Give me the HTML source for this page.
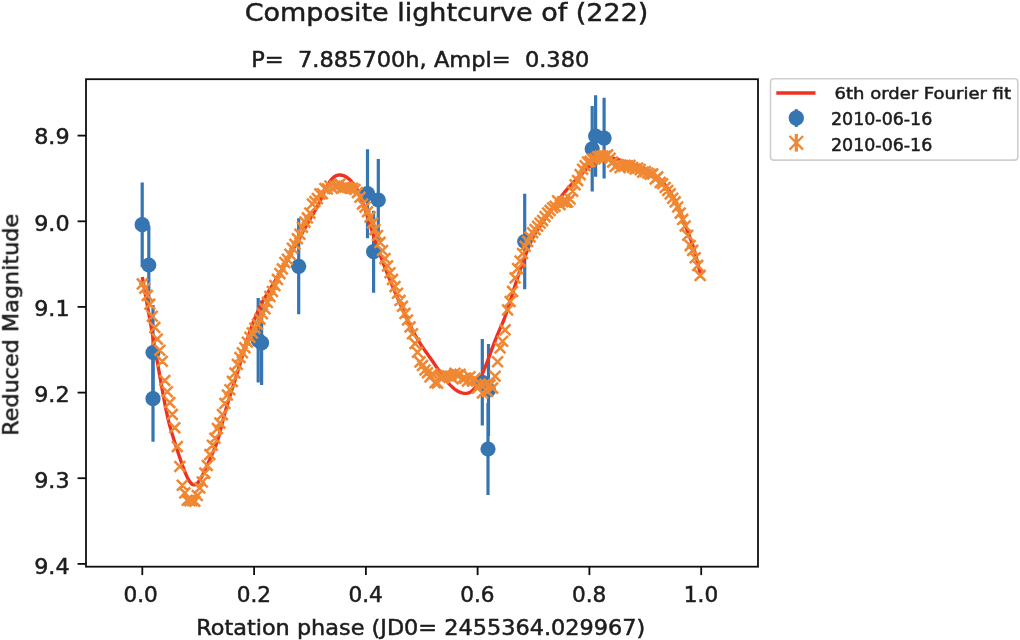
<!DOCTYPE html>
<html><head><meta charset="utf-8"><title>Composite lightcurve of (222)</title>
<style>html,body{margin:0;padding:0;background:#fff;}body{width:1020px;height:640px;overflow:hidden}svg{display:block}</style>
</head><body>
<svg width="1020" height="640" viewBox="0 0 1020 640">
<rect width="1020" height="640" fill="#fff"/>
<filter id="soft" x="0" y="0" width="100%" height="100%" filterUnits="userSpaceOnUse"><feGaussianBlur stdDeviation="0.6"/></filter>
<g filter="url(#soft)">
<clipPath id="c"><rect x="86.0" y="79.2" width="672.0" height="487.50000000000006"/></clipPath>
<g clip-path="url(#c)">
<line x1="142.2" y1="182.5" x2="142.2" y2="266.9" stroke="#3674b2" stroke-width="3.2"/>
<line x1="148.8" y1="225.5" x2="148.8" y2="304.5" stroke="#3674b2" stroke-width="3.2"/>
<line x1="153" y1="305.0" x2="153" y2="400.0" stroke="#3674b2" stroke-width="3.2"/>
<line x1="153" y1="355.7" x2="153" y2="441.7" stroke="#3674b2" stroke-width="3.2"/>
<line x1="258.2" y1="297.9" x2="258.2" y2="382.5" stroke="#3674b2" stroke-width="3.2"/>
<line x1="261.6" y1="300.6" x2="261.6" y2="385.0" stroke="#3674b2" stroke-width="3.2"/>
<line x1="298.7" y1="218.3" x2="298.7" y2="314.3" stroke="#3674b2" stroke-width="3.2"/>
<line x1="367.5" y1="149.2" x2="367.5" y2="238.2" stroke="#3674b2" stroke-width="3.2"/>
<line x1="378.3" y1="159.0" x2="378.3" y2="241.0" stroke="#3674b2" stroke-width="3.2"/>
<line x1="373.6" y1="210.7" x2="373.6" y2="292.7" stroke="#3674b2" stroke-width="3.2"/>
<line x1="482.3" y1="339.0" x2="482.3" y2="425.6" stroke="#3674b2" stroke-width="3.2"/>
<line x1="488.5" y1="344.0" x2="488.5" y2="436.0" stroke="#3674b2" stroke-width="3.2"/>
<line x1="488" y1="403.0" x2="488" y2="495.0" stroke="#3674b2" stroke-width="3.2"/>
<line x1="524.7" y1="193.7" x2="524.7" y2="289.3" stroke="#3674b2" stroke-width="3.2"/>
<line x1="592.2" y1="106.0" x2="592.2" y2="191.6" stroke="#3674b2" stroke-width="3.2"/>
<line x1="595.6" y1="95.2" x2="595.6" y2="176.8" stroke="#3674b2" stroke-width="3.2"/>
<line x1="604.1" y1="97.8" x2="604.1" y2="178.4" stroke="#3674b2" stroke-width="3.2"/>
<path d="M142.3,277.0 L143.8,285.5 L145.3,293.9 L146.8,302.4 L148.3,310.8 L149.8,319.3 L151.3,327.7 L152.8,336.2 L154.3,344.7 L155.8,353.2 L157.3,361.7 L158.8,370.2 L160.3,378.7 L161.8,387.2 L163.3,395.5 L164.8,403.5 L166.3,411.0 L167.8,417.9 L169.3,424.0 L170.8,429.4 L172.3,434.4 L173.8,439.3 L175.3,444.0 L176.8,448.7 L178.3,453.3 L179.8,457.8 L181.3,462.1 L182.8,466.3 L184.3,470.3 L185.8,474.0 L187.3,477.3 L188.8,480.2 L190.3,482.4 L191.8,484.0 L193.3,484.9 L194.8,484.9 L196.3,484.2 L197.8,482.8 L199.3,480.8 L200.8,478.4 L202.3,475.6 L203.8,472.5 L205.3,469.4 L206.8,466.1 L208.3,462.8 L209.8,459.4 L211.3,456.0 L212.8,452.6 L214.3,449.1 L215.8,445.4 L217.3,441.2 L218.8,436.4 L220.3,430.8 L221.8,424.8 L223.3,418.8 L224.8,413.2 L226.3,407.9 L227.8,402.9 L229.3,398.0 L230.8,393.3 L232.3,388.6 L233.8,383.9 L235.3,379.2 L236.8,374.4 L238.3,369.5 L239.8,364.5 L241.3,359.4 L242.8,354.4 L244.3,349.4 L245.8,344.4 L247.3,339.6 L248.8,334.9 L250.3,330.4 L251.8,326.2 L253.3,322.2 L254.8,318.4 L256.3,314.8 L257.8,311.5 L259.3,308.3 L260.8,305.2 L262.3,302.4 L263.8,299.6 L265.3,296.9 L266.8,294.4 L268.3,291.9 L269.8,289.4 L271.3,287.0 L272.8,284.6 L274.3,282.1 L275.8,279.7 L277.3,277.2 L278.8,274.7 L280.3,272.1 L281.8,269.6 L283.3,267.0 L284.8,264.3 L286.3,261.7 L287.8,259.0 L289.3,256.3 L290.8,253.7 L292.3,251.0 L293.8,248.2 L295.3,245.5 L296.8,242.8 L298.3,240.1 L299.8,237.4 L301.3,234.6 L302.8,231.9 L304.3,229.2 L305.8,226.6 L307.3,223.9 L308.8,221.3 L310.3,218.7 L311.8,216.1 L313.3,213.6 L314.8,211.0 L316.3,208.4 L317.8,205.6 L319.3,202.7 L320.8,199.6 L322.3,196.3 L323.8,193.0 L325.3,189.8 L326.8,186.8 L328.3,184.0 L329.8,181.6 L331.3,179.6 L332.8,178.0 L334.3,176.8 L335.8,175.9 L337.3,175.3 L338.8,175.0 L340.3,175.0 L341.8,175.2 L343.3,175.6 L344.8,176.2 L346.3,177.0 L347.8,178.1 L349.3,179.3 L350.8,180.8 L352.3,182.5 L353.8,184.4 L355.3,186.6 L356.8,189.1 L358.3,192.0 L359.8,195.3 L361.3,198.9 L362.8,202.8 L364.3,207.0 L365.8,211.4 L367.3,216.0 L368.8,220.6 L370.3,225.3 L371.8,230.1 L373.3,234.8 L374.8,239.4 L376.3,243.9 L377.8,248.3 L379.3,252.5 L380.8,256.7 L382.3,260.7 L383.8,264.6 L385.3,268.5 L386.8,272.3 L388.3,276.0 L389.8,279.7 L391.3,283.3 L392.8,286.8 L394.3,290.4 L395.8,293.9 L397.3,297.4 L398.8,300.8 L400.3,304.2 L401.8,307.6 L403.3,311.0 L404.8,314.2 L406.3,317.5 L407.8,320.6 L409.3,323.7 L410.8,326.7 L412.3,329.7 L413.8,332.5 L415.3,335.3 L416.8,337.9 L418.3,340.4 L419.8,342.8 L421.3,345.2 L422.8,347.4 L424.3,349.6 L425.8,351.7 L427.3,353.8 L428.8,355.9 L430.3,358.0 L431.8,360.2 L433.3,362.3 L434.8,364.6 L436.3,366.8 L437.8,369.0 L439.3,371.2 L440.8,373.3 L442.3,375.4 L443.8,377.4 L445.3,379.4 L446.8,381.2 L448.3,383.0 L449.8,384.6 L451.3,386.1 L452.8,387.5 L454.3,388.8 L455.8,389.9 L457.3,390.9 L458.8,391.7 L460.3,392.3 L461.8,392.9 L463.3,393.2 L464.8,393.4 L466.3,393.4 L467.8,393.2 L469.3,392.7 L470.8,391.9 L472.3,390.7 L473.8,389.2 L475.3,387.3 L476.8,385.0 L478.3,382.4 L479.8,379.5 L481.3,376.3 L482.8,372.8 L484.3,369.2 L485.8,365.5 L487.3,361.6 L488.8,357.6 L490.3,353.5 L491.8,349.4 L493.3,345.4 L494.8,341.4 L496.3,337.5 L497.8,333.8 L499.3,330.3 L500.8,327.0 L502.3,323.6 L503.8,320.0 L505.3,316.0 L506.8,311.7 L508.3,307.1 L509.8,302.4 L511.3,297.5 L512.8,292.6 L514.3,287.8 L515.8,283.2 L517.3,278.6 L518.8,274.1 L520.3,269.7 L521.8,265.4 L523.3,261.2 L524.8,257.0 L526.3,252.9 L527.8,248.9 L529.3,245.2 L530.8,241.8 L532.3,238.6 L533.8,235.7 L535.3,233.1 L536.8,230.7 L538.3,228.4 L539.8,226.2 L541.3,224.1 L542.8,221.9 L544.3,219.7 L545.8,217.5 L547.3,215.4 L548.8,213.2 L550.3,211.1 L551.8,209.0 L553.3,206.9 L554.8,204.8 L556.3,202.8 L557.8,200.8 L559.3,198.9 L560.8,197.0 L562.3,195.1 L563.8,193.2 L565.3,191.4 L566.8,189.6 L568.3,187.9 L569.8,186.2 L571.3,184.6 L572.8,183.0 L574.3,181.4 L575.8,179.8 L577.3,178.3 L578.8,176.8 L580.3,175.3 L581.8,173.8 L583.3,172.3 L584.8,170.9 L586.3,169.4 L587.8,167.9 L589.3,166.5 L590.8,165.0 L592.3,163.7 L593.8,162.4 L595.3,161.2 L596.8,160.1 L598.3,159.2 L599.8,158.5 L601.3,157.9 L602.8,157.4 L604.3,157.1 L605.8,157.0 L607.3,157.0 L608.8,157.2 L610.3,157.5 L611.8,157.8 L613.3,158.2 L614.8,158.6 L616.3,159.1 L617.8,159.5 L619.3,159.9 L620.8,160.4 L622.3,160.8 L623.8,161.2 L625.3,161.6 L626.8,162.0 L628.3,162.5 L629.8,162.9 L631.3,163.4 L632.8,163.9 L634.3,164.5 L635.8,165.0 L637.3,165.7 L638.8,166.3 L640.3,167.0 L641.8,167.7 L643.3,168.4 L644.8,169.1 L646.3,169.9 L647.8,170.8 L649.3,171.6 L650.8,172.5 L652.3,173.4 L653.8,174.3 L655.3,175.4 L656.8,176.5 L658.3,177.7 L659.8,179.1 L661.3,180.6 L662.8,182.2 L664.3,184.0 L665.8,185.9 L667.3,188.0 L668.8,190.2 L670.3,192.5 L671.8,194.9 L673.3,197.4 L674.8,200.2 L676.3,203.2 L677.8,206.4 L679.3,210.0 L680.8,213.7 L682.3,217.5 L683.8,221.4 L685.3,225.3 L686.8,229.3 L688.3,233.2 L689.8,237.2 L691.3,241.2 L692.8,245.4 L694.3,250.1 L695.8,255.6 L697.3,261.6 L698.8,267.6 L700.3,273.1" fill="none" stroke="#ee3124" stroke-width="3.4" stroke-linejoin="round"/>
<circle cx="142.2" cy="224.7" r="7.6" fill="#3674b2"/>
<circle cx="148.8" cy="265" r="7.6" fill="#3674b2"/>
<circle cx="153" cy="352.5" r="7.6" fill="#3674b2"/>
<circle cx="153" cy="398.7" r="7.6" fill="#3674b2"/>
<circle cx="258.2" cy="340.2" r="7.6" fill="#3674b2"/>
<circle cx="261.6" cy="342.8" r="7.6" fill="#3674b2"/>
<circle cx="298.7" cy="266.3" r="7.6" fill="#3674b2"/>
<circle cx="367.5" cy="193.7" r="7.6" fill="#3674b2"/>
<circle cx="378.3" cy="200" r="7.6" fill="#3674b2"/>
<circle cx="373.6" cy="251.7" r="7.6" fill="#3674b2"/>
<circle cx="482.3" cy="382.3" r="7.6" fill="#3674b2"/>
<circle cx="488.5" cy="390" r="7.6" fill="#3674b2"/>
<circle cx="488" cy="449" r="7.6" fill="#3674b2"/>
<circle cx="524.7" cy="241.5" r="7.6" fill="#3674b2"/>
<circle cx="592.2" cy="148.8" r="7.6" fill="#3674b2"/>
<circle cx="595.6" cy="136" r="7.6" fill="#3674b2"/>
<circle cx="604.1" cy="138.1" r="7.6" fill="#3674b2"/>
<path d="M136.9,278.5l10.8,10.8M136.9,289.3l10.8,-10.8M139.4,282.8l10.8,10.8M139.4,293.6l10.8,-10.8M141.9,290.0l10.8,10.8M141.9,300.8l10.8,-10.8M144.4,298.8l10.8,10.8M144.4,309.6l10.8,-10.8M146.9,310.9l10.8,10.8M146.9,321.7l10.8,-10.8M149.4,322.0l10.8,10.8M149.4,332.8l10.8,-10.8M151.9,333.7l10.8,10.8M151.9,344.5l10.8,-10.8M154.4,344.9l10.8,10.8M154.4,355.7l10.8,-10.8M156.9,355.9l10.8,10.8M156.9,366.7l10.8,-10.8M159.4,375.1l10.8,10.8M159.4,385.9l10.8,-10.8M161.9,386.3l10.8,10.8M161.9,397.1l10.8,-10.8M164.4,397.2l10.8,10.8M164.4,408.0l10.8,-10.8M166.9,409.0l10.8,10.8M166.9,419.8l10.8,-10.8M169.4,422.4l10.8,10.8M169.4,433.2l10.8,-10.8M171.9,441.2l10.8,10.8M171.9,452.0l10.8,-10.8M174.4,461.1l10.8,10.8M174.4,471.9l10.8,-10.8M176.9,479.8l10.8,10.8M176.9,490.6l10.8,-10.8M179.4,487.5l10.8,10.8M179.4,498.3l10.8,-10.8M181.9,494.8l10.8,10.8M181.9,505.6l10.8,-10.8M184.4,495.2l10.8,10.8M184.4,506.0l10.8,-10.8M186.9,495.2l10.8,10.8M186.9,506.0l10.8,-10.8M189.4,495.9l10.8,10.8M189.4,506.7l10.8,-10.8M191.9,490.1l10.8,10.8M191.9,500.9l10.8,-10.8M194.4,482.5l10.8,10.8M194.4,493.3l10.8,-10.8M196.9,476.6l10.8,10.8M196.9,487.4l10.8,-10.8M199.4,467.7l10.8,10.8M199.4,478.5l10.8,-10.8M201.9,460.1l10.8,10.8M201.9,470.9l10.8,-10.8M204.4,449.2l10.8,10.8M204.4,460.0l10.8,-10.8M207.0,439.8l10.8,10.8M207.0,450.6l10.8,-10.8M209.5,432.8l10.8,10.8M209.5,443.6l10.8,-10.8M212.0,423.2l10.8,10.8M212.0,434.0l10.8,-10.8M214.5,417.7l10.8,10.8M214.5,428.5l10.8,-10.8M217.0,409.2l10.8,10.8M217.0,420.0l10.8,-10.8M219.5,398.0l10.8,10.8M219.5,408.8l10.8,-10.8M222.0,389.6l10.8,10.8M222.0,400.4l10.8,-10.8M224.5,384.3l10.8,10.8M224.5,395.1l10.8,-10.8M227.0,376.0l10.8,10.8M227.0,386.8l10.8,-10.8M229.5,367.6l10.8,10.8M229.5,378.4l10.8,-10.8M232.0,359.0l10.8,10.8M232.0,369.8l10.8,-10.8M234.5,352.2l10.8,10.8M234.5,363.0l10.8,-10.8M237.0,347.3l10.8,10.8M237.0,358.1l10.8,-10.8M239.5,342.3l10.8,10.8M239.5,353.1l10.8,-10.8M242.0,336.9l10.8,10.8M242.0,347.7l10.8,-10.8M244.5,331.8l10.8,10.8M244.5,342.6l10.8,-10.8M247.0,327.5l10.8,10.8M247.0,338.3l10.8,-10.8M249.5,322.8l10.8,10.8M249.5,333.6l10.8,-10.8M252.0,318.9l10.8,10.8M252.0,329.7l10.8,-10.8M254.5,313.7l10.8,10.8M254.5,324.5l10.8,-10.8M257.0,308.3l10.8,10.8M257.0,319.1l10.8,-10.8M259.5,303.3l10.8,10.8M259.5,314.1l10.8,-10.8M262.0,297.0l10.8,10.8M262.0,307.8l10.8,-10.8M264.5,291.0l10.8,10.8M264.5,301.8l10.8,-10.8M267.0,286.1l10.8,10.8M267.0,296.9l10.8,-10.8M269.5,280.2l10.8,10.8M269.5,291.0l10.8,-10.8M272.0,274.0l10.8,10.8M272.0,284.8l10.8,-10.8M274.5,268.2l10.8,10.8M274.5,279.0l10.8,-10.8M277.0,263.5l10.8,10.8M277.0,274.3l10.8,-10.8M279.5,257.2l10.8,10.8M279.5,268.0l10.8,-10.8M282.0,253.9l10.8,10.8M282.0,264.7l10.8,-10.8M284.5,248.8l10.8,10.8M284.5,259.6l10.8,-10.8M287.0,242.9l10.8,10.8M287.0,253.7l10.8,-10.8M289.5,238.8l10.8,10.8M289.5,249.6l10.8,-10.8M292.0,233.3l10.8,10.8M292.0,244.1l10.8,-10.8M294.5,228.9l10.8,10.8M294.5,239.7l10.8,-10.8M297.0,221.8l10.8,10.8M297.0,232.6l10.8,-10.8M299.5,216.7l10.8,10.8M299.5,227.5l10.8,-10.8M302.0,212.5l10.8,10.8M302.0,223.3l10.8,-10.8M304.5,207.7l10.8,10.8M304.5,218.5l10.8,-10.8M307.0,198.6l10.8,10.8M307.0,209.4l10.8,-10.8M309.5,196.1l10.8,10.8M309.5,206.9l10.8,-10.8M312.0,193.2l10.8,10.8M312.0,204.0l10.8,-10.8M314.5,188.5l10.8,10.8M314.5,199.3l10.8,-10.8M317.0,188.4l10.8,10.8M317.0,199.2l10.8,-10.8M319.5,183.2l10.8,10.8M319.5,194.0l10.8,-10.8M322.0,183.5l10.8,10.8M322.0,194.3l10.8,-10.8M324.5,180.6l10.8,10.8M324.5,191.4l10.8,-10.8M327.0,182.9l10.8,10.8M327.0,193.7l10.8,-10.8M329.5,180.9l10.8,10.8M329.5,191.7l10.8,-10.8M332.0,180.3l10.8,10.8M332.0,191.1l10.8,-10.8M334.5,178.6l10.8,10.8M334.5,189.4l10.8,-10.8M337.0,182.6l10.8,10.8M337.0,193.4l10.8,-10.8M339.5,181.6l10.8,10.8M339.5,192.4l10.8,-10.8M342.0,181.9l10.8,10.8M342.0,192.7l10.8,-10.8M344.5,182.9l10.8,10.8M344.5,193.7l10.8,-10.8M347.1,182.9l10.8,10.8M347.1,193.7l10.8,-10.8M349.6,184.1l10.8,10.8M349.6,194.9l10.8,-10.8M352.1,187.2l10.8,10.8M352.1,198.0l10.8,-10.8M354.6,191.9l10.8,10.8M354.6,202.7l10.8,-10.8M357.1,198.7l10.8,10.8M357.1,209.5l10.8,-10.8M359.6,201.7l10.8,10.8M359.6,212.5l10.8,-10.8M362.1,206.4l10.8,10.8M362.1,217.2l10.8,-10.8M364.6,211.5l10.8,10.8M364.6,222.3l10.8,-10.8M367.1,217.6l10.8,10.8M367.1,228.4l10.8,-10.8M369.6,224.2l10.8,10.8M369.6,235.0l10.8,-10.8M372.1,230.1l10.8,10.8M372.1,240.9l10.8,-10.8M374.6,237.0l10.8,10.8M374.6,247.8l10.8,-10.8M377.1,245.1l10.8,10.8M377.1,255.9l10.8,-10.8M379.6,253.2l10.8,10.8M379.6,264.0l10.8,-10.8M382.1,260.5l10.8,10.8M382.1,271.3l10.8,-10.8M384.6,267.3l10.8,10.8M384.6,278.1l10.8,-10.8M387.1,274.0l10.8,10.8M387.1,284.8l10.8,-10.8M389.6,281.2l10.8,10.8M389.6,292.0l10.8,-10.8M392.1,287.8l10.8,10.8M392.1,298.6l10.8,-10.8M394.6,295.0l10.8,10.8M394.6,305.8l10.8,-10.8M397.1,300.9l10.8,10.8M397.1,311.7l10.8,-10.8M399.6,308.0l10.8,10.8M399.6,318.8l10.8,-10.8M402.1,314.6l10.8,10.8M402.1,325.4l10.8,-10.8M404.6,321.5l10.8,10.8M404.6,332.3l10.8,-10.8M407.1,328.4l10.8,10.8M407.1,339.2l10.8,-10.8M409.6,338.0l10.8,10.8M409.6,348.8l10.8,-10.8M412.1,346.8l10.8,10.8M412.1,357.6l10.8,-10.8M414.6,356.5l10.8,10.8M414.6,367.3l10.8,-10.8M417.1,360.0l10.8,10.8M417.1,370.8l10.8,-10.8M419.6,364.6l10.8,10.8M419.6,375.4l10.8,-10.8M422.1,367.4l10.8,10.8M422.1,378.2l10.8,-10.8M424.6,371.5l10.8,10.8M424.6,382.3l10.8,-10.8M427.1,368.5l10.8,10.8M427.1,379.3l10.8,-10.8M429.6,377.3l10.8,10.8M429.6,388.1l10.8,-10.8M432.1,377.7l10.8,10.8M432.1,388.5l10.8,-10.8M434.6,372.1l10.8,10.8M434.6,382.9l10.8,-10.8M437.1,371.1l10.8,10.8M437.1,381.9l10.8,-10.8M439.6,369.7l10.8,10.8M439.6,380.5l10.8,-10.8M442.1,370.4l10.8,10.8M442.1,381.2l10.8,-10.8M444.6,370.8l10.8,10.8M444.6,381.6l10.8,-10.8M447.1,372.9l10.8,10.8M447.1,383.7l10.8,-10.8M449.6,367.9l10.8,10.8M449.6,378.7l10.8,-10.8M452.1,369.6l10.8,10.8M452.1,380.4l10.8,-10.8M454.6,368.9l10.8,10.8M454.6,379.7l10.8,-10.8M457.1,373.4l10.8,10.8M457.1,384.2l10.8,-10.8M459.6,372.9l10.8,10.8M459.6,383.7l10.8,-10.8M462.1,375.6l10.8,10.8M462.1,386.4l10.8,-10.8M464.6,371.3l10.8,10.8M464.6,382.1l10.8,-10.8M467.1,375.7l10.8,10.8M467.1,386.5l10.8,-10.8M469.6,373.0l10.8,10.8M469.6,383.8l10.8,-10.8M472.1,382.7l10.8,10.8M472.1,393.5l10.8,-10.8M474.6,378.6l10.8,10.8M474.6,389.4l10.8,-10.8M477.1,387.5l10.8,10.8M477.1,398.3l10.8,-10.8M479.6,378.8l10.8,10.8M479.6,389.6l10.8,-10.8M482.1,386.0l10.8,10.8M482.1,396.8l10.8,-10.8M484.6,379.5l10.8,10.8M484.6,390.3l10.8,-10.8M487.2,382.7l10.8,10.8M487.2,393.5l10.8,-10.8M489.7,370.9l10.8,10.8M489.7,381.7l10.8,-10.8M492.2,356.3l10.8,10.8M492.2,367.1l10.8,-10.8M494.7,342.5l10.8,10.8M494.7,353.3l10.8,-10.8M497.2,335.8l10.8,10.8M497.2,346.6l10.8,-10.8M499.7,324.5l10.8,10.8M499.7,335.3l10.8,-10.8M502.2,304.5l10.8,10.8M502.2,315.3l10.8,-10.8M504.7,296.1l10.8,10.8M504.7,306.9l10.8,-10.8M507.2,286.0l10.8,10.8M507.2,296.8l10.8,-10.8M509.7,272.5l10.8,10.8M509.7,283.3l10.8,-10.8M512.2,263.2l10.8,10.8M512.2,274.0l10.8,-10.8M514.7,255.7l10.8,10.8M514.7,266.5l10.8,-10.8M517.2,248.1l10.8,10.8M517.2,258.9l10.8,-10.8M519.7,240.9l10.8,10.8M519.7,251.7l10.8,-10.8M522.2,236.0l10.8,10.8M522.2,246.8l10.8,-10.8M524.7,231.6l10.8,10.8M524.7,242.4l10.8,-10.8M527.2,227.3l10.8,10.8M527.2,238.1l10.8,-10.8M529.7,224.2l10.8,10.8M529.7,235.0l10.8,-10.8M532.2,220.8l10.8,10.8M532.2,231.6l10.8,-10.8M534.7,217.8l10.8,10.8M534.7,228.6l10.8,-10.8M537.2,215.2l10.8,10.8M537.2,226.0l10.8,-10.8M539.7,211.2l10.8,10.8M539.7,222.0l10.8,-10.8M542.2,207.7l10.8,10.8M542.2,218.5l10.8,-10.8M544.7,205.0l10.8,10.8M544.7,215.8l10.8,-10.8M547.2,202.4l10.8,10.8M547.2,213.2l10.8,-10.8M549.7,200.8l10.8,10.8M549.7,211.6l10.8,-10.8M552.2,195.3l10.8,10.8M552.2,206.1l10.8,-10.8M554.7,199.2l10.8,10.8M554.7,210.0l10.8,-10.8M557.2,196.3l10.8,10.8M557.2,207.1l10.8,-10.8M559.7,196.5l10.8,10.8M559.7,207.3l10.8,-10.8M562.2,196.6l10.8,10.8M562.2,207.4l10.8,-10.8M564.7,193.6l10.8,10.8M564.7,204.4l10.8,-10.8M567.2,185.9l10.8,10.8M567.2,196.7l10.8,-10.8M569.7,179.3l10.8,10.8M569.7,190.1l10.8,-10.8M572.2,175.2l10.8,10.8M572.2,186.0l10.8,-10.8M574.7,169.2l10.8,10.8M574.7,180.0l10.8,-10.8M577.2,163.9l10.8,10.8M577.2,174.7l10.8,-10.8M579.7,160.4l10.8,10.8M579.7,171.2l10.8,-10.8M582.2,156.7l10.8,10.8M582.2,167.5l10.8,-10.8M584.7,156.0l10.8,10.8M584.7,166.8l10.8,-10.8M587.2,153.9l10.8,10.8M587.2,164.7l10.8,-10.8M589.7,153.4l10.8,10.8M589.7,164.2l10.8,-10.8M592.2,151.5l10.8,10.8M592.2,162.3l10.8,-10.8M594.7,150.7l10.8,10.8M594.7,161.5l10.8,-10.8M597.2,150.7l10.8,10.8M597.2,161.5l10.8,-10.8M599.7,150.8l10.8,10.8M599.7,161.6l10.8,-10.8M602.2,149.5l10.8,10.8M602.2,160.3l10.8,-10.8M604.7,152.8l10.8,10.8M604.7,163.6l10.8,-10.8M607.2,156.7l10.8,10.8M607.2,167.5l10.8,-10.8M609.7,161.1l10.8,10.8M609.7,171.9l10.8,-10.8M612.2,159.1l10.8,10.8M612.2,169.9l10.8,-10.8M614.7,162.3l10.8,10.8M614.7,173.1l10.8,-10.8M617.2,160.1l10.8,10.8M617.2,170.9l10.8,-10.8M619.7,159.9l10.8,10.8M619.7,170.7l10.8,-10.8M622.2,160.5l10.8,10.8M622.2,171.3l10.8,-10.8M624.7,160.0l10.8,10.8M624.7,170.8l10.8,-10.8M627.3,162.1l10.8,10.8M627.3,172.9l10.8,-10.8M629.8,163.6l10.8,10.8M629.8,174.4l10.8,-10.8M632.3,162.6l10.8,10.8M632.3,173.4l10.8,-10.8M634.8,164.2l10.8,10.8M634.8,175.0l10.8,-10.8M637.3,166.9l10.8,10.8M637.3,177.7l10.8,-10.8M639.8,166.1l10.8,10.8M639.8,176.9l10.8,-10.8M642.3,167.6l10.8,10.8M642.3,178.4l10.8,-10.8M644.8,168.8l10.8,10.8M644.8,179.6l10.8,-10.8M647.3,168.5l10.8,10.8M647.3,179.3l10.8,-10.8M649.8,173.6l10.8,10.8M649.8,184.4l10.8,-10.8M652.3,171.5l10.8,10.8M652.3,182.3l10.8,-10.8M654.8,177.0l10.8,10.8M654.8,187.8l10.8,-10.8M657.3,178.4l10.8,10.8M657.3,189.2l10.8,-10.8M659.8,182.1l10.8,10.8M659.8,192.9l10.8,-10.8M662.3,185.1l10.8,10.8M662.3,195.9l10.8,-10.8M664.8,188.5l10.8,10.8M664.8,199.3l10.8,-10.8M667.3,192.8l10.8,10.8M667.3,203.6l10.8,-10.8M669.8,196.5l10.8,10.8M669.8,207.3l10.8,-10.8M672.3,201.6l10.8,10.8M672.3,212.4l10.8,-10.8M674.8,207.7l10.8,10.8M674.8,218.5l10.8,-10.8M677.3,214.0l10.8,10.8M677.3,224.8l10.8,-10.8M679.8,220.6l10.8,10.8M679.8,231.4l10.8,-10.8M682.3,229.8l10.8,10.8M682.3,240.6l10.8,-10.8M684.8,240.2l10.8,10.8M684.8,251.0l10.8,-10.8M687.3,245.0l10.8,10.8M687.3,255.8l10.8,-10.8M689.8,252.4l10.8,10.8M689.8,263.2l10.8,-10.8M692.3,260.0l10.8,10.8M692.3,270.8l10.8,-10.8M694.8,270.0l10.8,10.8M694.8,280.8l10.8,-10.8" fill="none" stroke="#f08732" stroke-width="2.5"/>
</g>
<rect x="86.0" y="79.2" width="672.0" height="487.50000000000006" fill="none" stroke="#0c0c0c" stroke-width="1.8"/>
<line x1="142.3" y1="566.7" x2="142.3" y2="575.1" stroke="#0c0c0c" stroke-width="1.8"/>
<text x="140.7" y="602.0" font-size="21.6" text-anchor="middle" fill="#1c1c1c" font-family="DejaVu Sans, Liberation Sans, sans-serif" stroke="#1c1c1c" stroke-width="0.5">0.0</text>
<line x1="254.1" y1="566.7" x2="254.1" y2="575.1" stroke="#0c0c0c" stroke-width="1.8"/>
<text x="253.9" y="602.0" font-size="21.6" text-anchor="middle" fill="#1c1c1c" font-family="DejaVu Sans, Liberation Sans, sans-serif" stroke="#1c1c1c" stroke-width="0.5">0.2</text>
<line x1="365.9" y1="566.7" x2="365.9" y2="575.1" stroke="#0c0c0c" stroke-width="1.8"/>
<text x="365.7" y="602.0" font-size="21.6" text-anchor="middle" fill="#1c1c1c" font-family="DejaVu Sans, Liberation Sans, sans-serif" stroke="#1c1c1c" stroke-width="0.5">0.4</text>
<line x1="477.6" y1="566.7" x2="477.6" y2="575.1" stroke="#0c0c0c" stroke-width="1.8"/>
<text x="477.4" y="602.0" font-size="21.6" text-anchor="middle" fill="#1c1c1c" font-family="DejaVu Sans, Liberation Sans, sans-serif" stroke="#1c1c1c" stroke-width="0.5">0.6</text>
<line x1="589.4" y1="566.7" x2="589.4" y2="575.1" stroke="#0c0c0c" stroke-width="1.8"/>
<text x="589.2" y="602.0" font-size="21.6" text-anchor="middle" fill="#1c1c1c" font-family="DejaVu Sans, Liberation Sans, sans-serif" stroke="#1c1c1c" stroke-width="0.5">0.8</text>
<line x1="701.2" y1="566.7" x2="701.2" y2="575.1" stroke="#0c0c0c" stroke-width="1.8"/>
<text x="701.0" y="602.0" font-size="21.6" text-anchor="middle" fill="#1c1c1c" font-family="DejaVu Sans, Liberation Sans, sans-serif" stroke="#1c1c1c" stroke-width="0.5">1.0</text>
<line x1="77.6" y1="135.6" x2="86.0" y2="135.6" stroke="#0c0c0c" stroke-width="1.8"/>
<text x="69.6" y="144.4" font-size="21.6" text-anchor="end" textLength="35.4" lengthAdjust="spacingAndGlyphs" fill="#1c1c1c" font-family="DejaVu Sans, Liberation Sans, sans-serif" stroke="#1c1c1c" stroke-width="0.5">8.9</text>
<line x1="77.6" y1="221.3" x2="86.0" y2="221.3" stroke="#0c0c0c" stroke-width="1.8"/>
<text x="69.6" y="230.8" font-size="21.6" text-anchor="end" textLength="35.4" lengthAdjust="spacingAndGlyphs" fill="#1c1c1c" font-family="DejaVu Sans, Liberation Sans, sans-serif" stroke="#1c1c1c" stroke-width="0.5">9.0</text>
<line x1="77.6" y1="306.9" x2="86.0" y2="306.9" stroke="#0c0c0c" stroke-width="1.8"/>
<text x="69.6" y="316.4" font-size="21.6" text-anchor="end" textLength="35.4" lengthAdjust="spacingAndGlyphs" fill="#1c1c1c" font-family="DejaVu Sans, Liberation Sans, sans-serif" stroke="#1c1c1c" stroke-width="0.5">9.1</text>
<line x1="77.6" y1="392.6" x2="86.0" y2="392.6" stroke="#0c0c0c" stroke-width="1.8"/>
<text x="69.6" y="402.1" font-size="21.6" text-anchor="end" textLength="35.4" lengthAdjust="spacingAndGlyphs" fill="#1c1c1c" font-family="DejaVu Sans, Liberation Sans, sans-serif" stroke="#1c1c1c" stroke-width="0.5">9.2</text>
<line x1="77.6" y1="478.2" x2="86.0" y2="478.2" stroke="#0c0c0c" stroke-width="1.8"/>
<text x="69.6" y="487.7" font-size="21.6" text-anchor="end" textLength="35.4" lengthAdjust="spacingAndGlyphs" fill="#1c1c1c" font-family="DejaVu Sans, Liberation Sans, sans-serif" stroke="#1c1c1c" stroke-width="0.5">9.3</text>
<line x1="77.6" y1="563.9" x2="86.0" y2="563.9" stroke="#0c0c0c" stroke-width="1.8"/>
<text x="69.6" y="574.4" font-size="21.6" text-anchor="end" textLength="35.4" lengthAdjust="spacingAndGlyphs" fill="#1c1c1c" font-family="DejaVu Sans, Liberation Sans, sans-serif" stroke="#1c1c1c" stroke-width="0.5">9.4</text>
<text x="420.7" y="634.8" font-size="21.6" text-anchor="middle" textLength="449" lengthAdjust="spacingAndGlyphs" fill="#1c1c1c" font-family="DejaVu Sans, Liberation Sans, sans-serif" stroke="#1c1c1c" stroke-width="0.5">Rotation phase (JD0= 2455364.029967)</text>
<text transform="translate(18.2,324.8) rotate(-90)" font-size="21.6" text-anchor="middle" textLength="222" lengthAdjust="spacingAndGlyphs" fill="#1c1c1c" font-family="DejaVu Sans, Liberation Sans, sans-serif" stroke="#1c1c1c" stroke-width="0.5">Reduced Magnitude</text>
<text x="420.3" y="67" font-size="21.6" text-anchor="middle" textLength="338" lengthAdjust="spacingAndGlyphs" fill="#1c1c1c" font-family="DejaVu Sans, Liberation Sans, sans-serif" stroke="#1c1c1c" stroke-width="0.5" xml:space="preserve" style="white-space:pre">P=  7.885700h, Ampl=  0.380</text>
<text x="446.5" y="21.4" font-size="25.3" text-anchor="middle" textLength="403.7" lengthAdjust="spacingAndGlyphs" fill="#1c1c1c" font-family="DejaVu Sans, Liberation Sans, sans-serif" stroke="#1c1c1c" stroke-width="0.5">Composite lightcurve of (222)</text>
<rect x="770.5" y="78.8" width="247.3" height="81.3" rx="3.2" fill="#fff" stroke="#cfcfcf" stroke-width="1.6"/>
<line x1="776.3" y1="93" x2="815.5" y2="93" stroke="#ee3124" stroke-width="3.3"/>
<text x="834.5" y="99.3" font-size="16.4" textLength="176.5" lengthAdjust="spacingAndGlyphs" fill="#1c1c1c" font-family="DejaVu Sans, Liberation Sans, sans-serif" stroke="#1c1c1c" stroke-width="0.5">6th order Fourier fit</text>
<line x1="796.3" y1="109.2" x2="796.3" y2="126.9" stroke="#3674b2" stroke-width="3.2"/>
<circle cx="796.3" cy="118" r="7.7" fill="#3674b2"/>
<text x="831" y="125.3" font-size="16.8" textLength="101.3" lengthAdjust="spacingAndGlyphs" fill="#1c1c1c" font-family="DejaVu Sans, Liberation Sans, sans-serif" stroke="#1c1c1c" stroke-width="0.5">2010-06-16</text>
<path d="M796.3,134.0V151.60000000000002" stroke="#f08732" stroke-width="3.2" fill="none"/>
<path d="M789.5,136.0l13.6,13.6M789.5,149.60000000000002l13.6,-13.6" stroke="#f08732" stroke-width="2.3" fill="none"/>
<text x="831" y="150.6" font-size="16.8" textLength="101.3" lengthAdjust="spacingAndGlyphs" fill="#1c1c1c" font-family="DejaVu Sans, Liberation Sans, sans-serif" stroke="#1c1c1c" stroke-width="0.5">2010-06-16</text>
</g>
</svg>
</body></html>
